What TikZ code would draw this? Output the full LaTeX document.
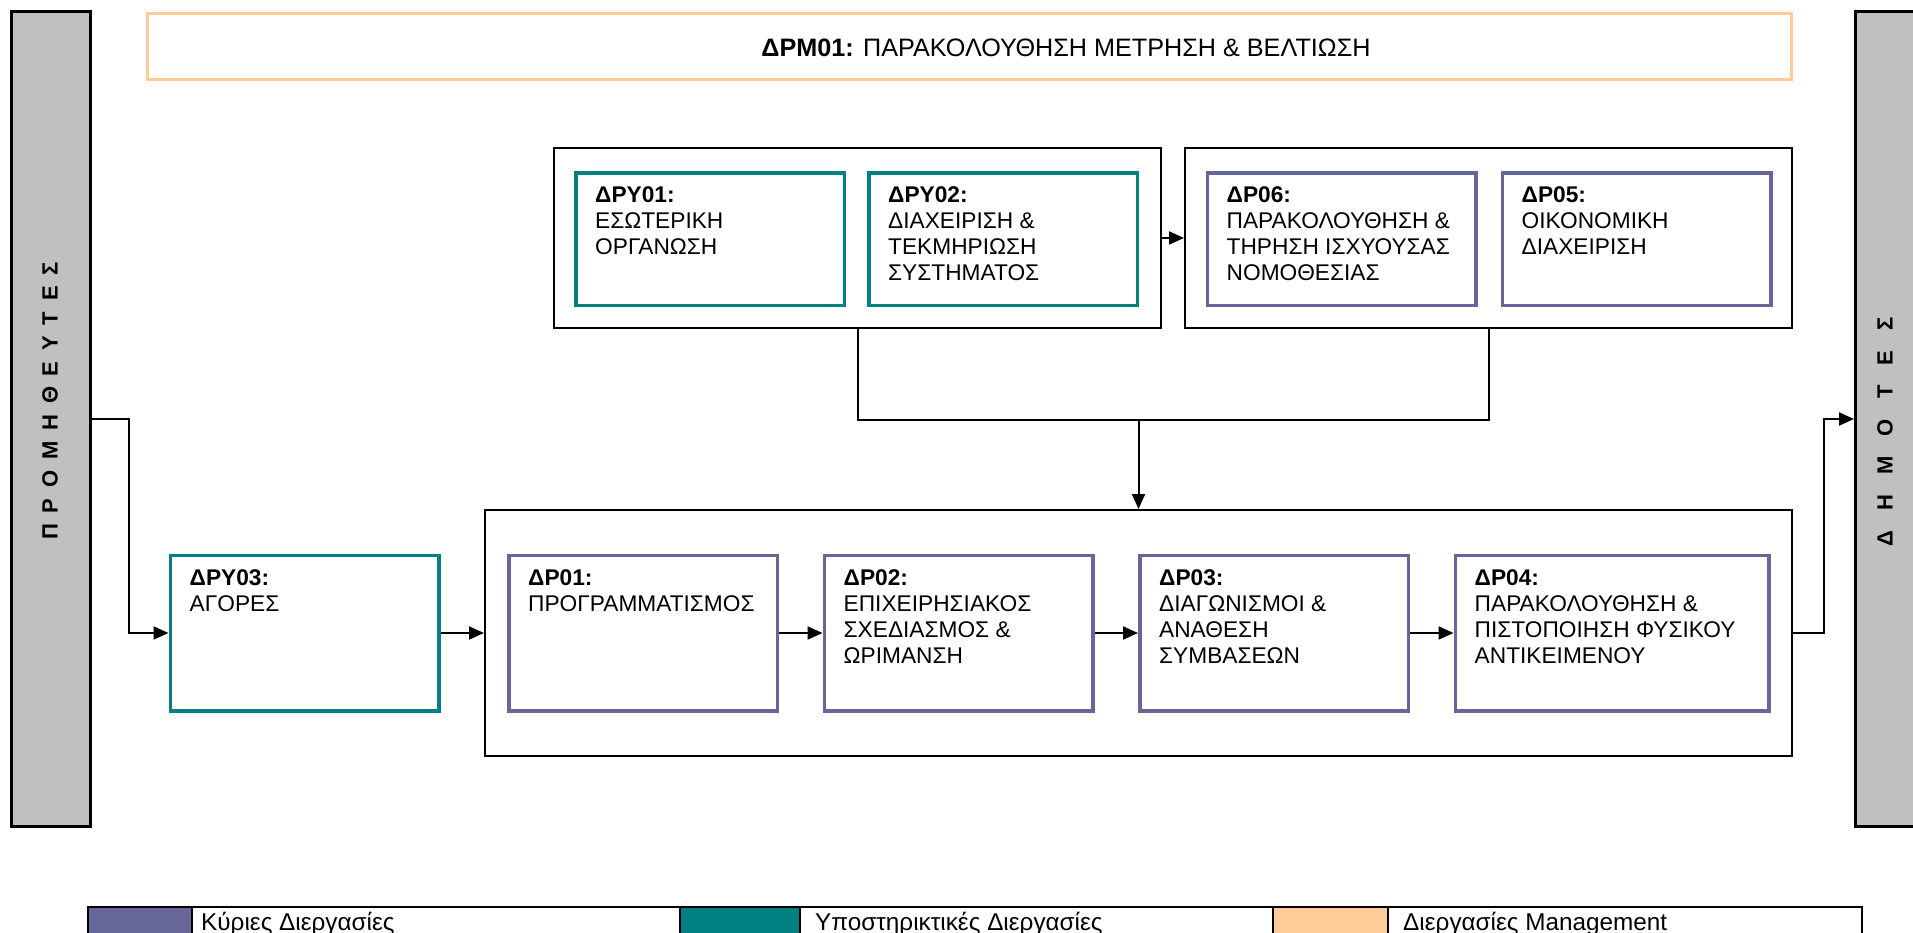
\documentclass[tikz,border=0pt]{standalone}
\usepackage{fontspec}
\setmainfont{Liberation Sans}
\usetikzlibrary{positioning,arrows.meta,calc}

\definecolor{kyria}{HTML}{666699}
\definecolor{ypost}{HTML}{008080}
\definecolor{mgmt}{HTML}{FFCC99}
\definecolor{bargrey}{HTML}{C0C0C0}

\newcommand{\boxfont}{\fontsize{22.7}{25.9}\selectfont}
\newcommand{\legfont}{\fontsize{24.3}{28}\selectfont}
\newcommand{\titlefont}{\fontsize{25.2}{28}\selectfont}
\newcommand{\barfont}{\fontsize{22}{26}\selectfont\bfseries}
\newcommand{\lsp}{\hspace{10.8pt}}
\newcommand{\wsp}{\hspace{20.2pt}}

\tikzset{
  proc/.style={draw=kyria,line width=3.5pt,inner sep=0pt,minimum width=268.5pt,minimum height=155.5pt},
  supp/.style={proc,draw=ypost},
  tproc/.style={proc,minimum height=132.5pt},
  tsupp/.style={supp,minimum height=132.5pt},
  grp/.style={draw,line width=2pt,inner sep=0pt},
  sidebar/.style={draw,fill=bargrey,line width=3pt,inner sep=0pt,minimum width=79pt,minimum height=815pt},
  bartxt/.style={rotate=90,inner sep=0pt,font=\barfont},
  txt/.style={anchor=north west,inner sep=0pt,align=left,font=\boxfont,xshift=21pt,yshift=-15.8pt},
  swatch/.style={draw,line width=1.5pt,anchor=north west,inner sep=0pt,minimum height=60pt},
  legtxt/.style={anchor=base west,inner sep=0pt,font=\legfont},
  conn/.style={line width=2pt}
}

\begin{document}
\begin{tikzpicture}[x=1pt,y=-1pt,>={Triangle[length=15pt,width=13pt]},node distance=43.5pt]
    \clip (0,0) rectangle (1913,932);

    % side bars
    \node[sidebar] (prom) at (51,419) {};
    \node[sidebar] (dim) at (1895,419) {};
    \node[bartxt] (promt) at (50,401) {Π\lsp Ρ\lsp Ο\lsp Μ\lsp Η\lsp Θ\lsp Ε\lsp Υ\lsp Τ\lsp Ε\lsp Σ};
    \node[bartxt] (dimt) at (1885,432) {Δ\wsp Η\wsp Μ\wsp Ο\wsp Τ\wsp Ε\wsp Σ};

    % management
    \node[draw=mgmt,line width=3pt,inner sep=0pt,minimum width=1644pt,minimum height=66pt] (m01) at (969.5,46.5) {};
    \node[anchor=base,inner sep=0pt,font=\titlefont] (m01t) at (1066,56) {\textbf{ΔΡΜ01:} ΠΑΡΑΚΟΛΟΥΘΗΣΗ ΜΕΤΡΗΣΗ \& ΒΕΛΤΙΩΣΗ};

    % groups
    \node[grp,minimum width=607pt,minimum height=180pt] (gt1) at (857.5,238) {};
    \node[grp,minimum width=607pt,minimum height=180pt] (gt2) at (1488.5,238) {};
    \node[grp,minimum width=1307pt,minimum height=246pt] (gb) at (1138.5,633) {};

    % top row
    \node[tsupp] (y01) at (710,239) {};
    \node[tsupp,right=21pt of y01] (y02) {};
    \node[tproc] (p06) at (1341.5,239) {};
    \node[tproc,right=23pt of p06] (p05) {};

    \node[txt] (y01t) at (y01.north west) {\textbf{ΔΡΥ01:}\\ΕΣΩΤΕΡΙΚΗ\\ΟΡΓΑΝΩΣΗ};
    \node[txt] (y02t) at (y02.north west) {\textbf{ΔΡΥ02:}\\ΔΙΑΧΕΙΡΙΣΗ \&\\ΤΕΚΜΗΡΙΩΣΗ\\ΣΥΣΤΗΜΑΤΟΣ};
    \node[txt] (p06t) at (p06.north west) {\textbf{ΔΡ06:}\\ΠΑΡΑΚΟΛΟΥΘΗΣΗ \&\\ΤΗΡΗΣΗ ΙΣΧΥΟΥΣΑΣ\\ΝΟΜΟΘΕΣΙΑΣ};
    \node[txt] (p05t) at (p05.north west) {\textbf{ΔΡ05:}\\ΟΙΚΟΝΟΜΙΚΗ\\ΔΙΑΧΕΙΡΙΣΗ};

    % bottom row
    \node[supp] (y03) at (304.5,633) {};
    \node[proc] (p01) at (643,633) {};
    \node[proc,right=of p01] (p02) {};
    \node[proc,right=of p02] (p03) {};
    \node[proc,minimum width=313.5pt,right=of p03] (p04) {};

    \node[txt] (y03t) at (y03.north west) {\textbf{ΔΡΥ03:}\\ΑΓΟΡΕΣ};
    \node[txt] (p01t) at (p01.north west) {\textbf{ΔΡ01:}\\ΠΡΟΓΡΑΜΜΑΤΙΣΜΟΣ};
    \node[txt] (p02t) at (p02.north west) {\textbf{ΔΡ02:}\\ΕΠΙΧΕΙΡΗΣΙΑΚΟΣ\\ΣΧΕΔΙΑΣΜΟΣ \&\\ΩΡΙΜΑΝΣΗ};
    \node[txt] (p03t) at (p03.north west) {\textbf{ΔΡ03:}\\ΔΙΑΓΩΝΙΣΜΟΙ \&\\ΑΝΑΘΕΣΗ\\ΣΥΜΒΑΣΕΩΝ};
    \node[txt] (p04t) at (p04.north west) {\textbf{ΔΡ04:}\\ΠΑΡΑΚΟΛΟΥΘΗΣΗ \&\\ΠΙΣΤΟΠΟΙΗΣΗ ΦΥΣΙΚΟΥ\\ΑΝΤΙΚΕΙΜΕΝΟΥ};

    \coordinate[above=89pt of gb.north] (jn);

    % connectors
    \draw[conn,->] (gt1) -- (gt2);
    \draw[conn] (gt1.south) |- (jn) -| (gt2.south);
    \draw[conn,->] (jn) -- (gb.north);
    \draw[conn,->] (prom.east) -- ++(37,0) |- (y03.west);
    \draw[conn,->] (y03) -- (gb.west);
    \draw[conn,->] (p01) -- (p02);
    \draw[conn,->] (p02) -- (p03);
    \draw[conn,->] (p03) -- (p04);
    \draw[conn,->] (gb.east) -- ++(31,0) |- (dim.west);

    % legend
    \node[draw,line width=2pt,inner sep=0pt,anchor=north west,minimum width=1774pt,minimum height=60pt] (leg) at (87,906) {};
    \node[swatch,fill=kyria,minimum width=104pt] (lk) at (87,906) {};
    \node[swatch,fill=ypost,minimum width=120pt] (ly) at (679,906) {};
    \node[swatch,fill=mgmt,minimum width=115pt] (lm) at (1272,906) {};
    \node[legtxt] (lkt) at (201,930) {Κύριες Διεργασίες};
    \node[legtxt] (lyt) at (815,930) {Υποστηρικτικές Διεργασίες};
    \node[legtxt] (lmt) at (1403,930) {Διεργασίες Management};
\end{tikzpicture}
\end{document}
